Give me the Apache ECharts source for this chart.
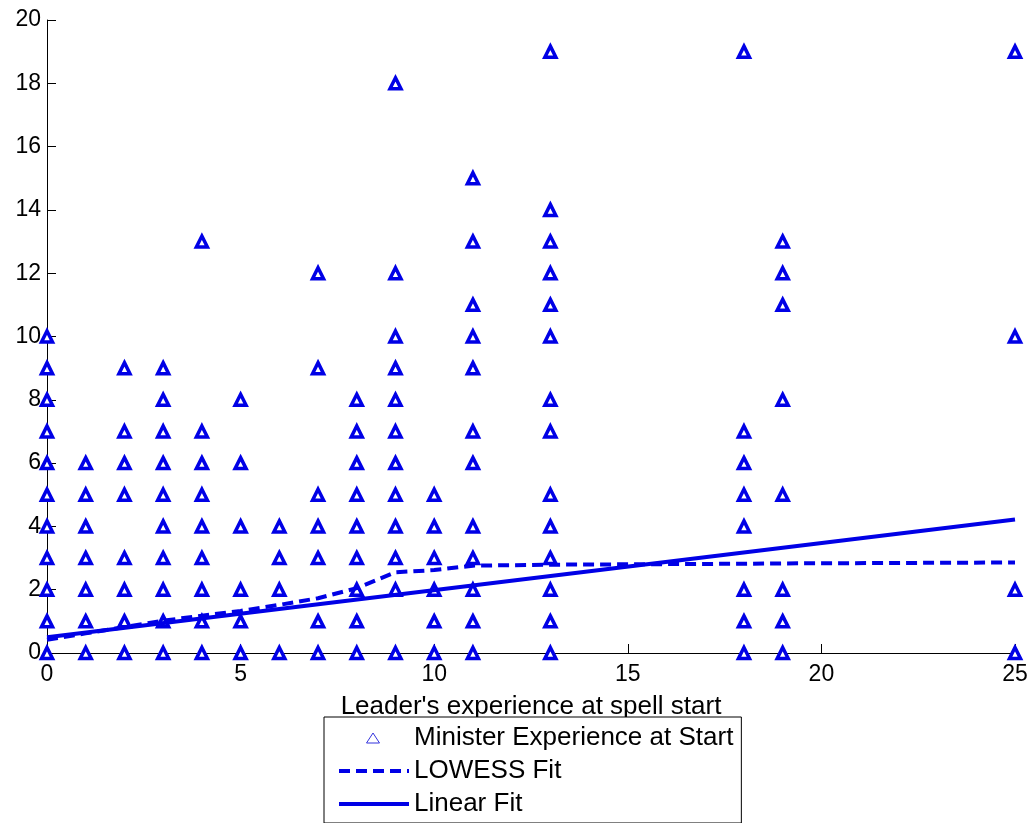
<!DOCTYPE html>
<html>
<head>
<meta charset="utf-8">
<script src="https://cdn.jsdelivr.net/npm/echarts@6/dist/echarts.min.js"></script>
<style>
  html, body { margin: 0; padding: 0; background: #fff; }
  #chart { width: 1035px; height: 823px; }
</style>
</head>
<body>
<div id="chart"></div>
<script>
// leader experience values (x) and minister experience values found at each x
var leaderExp = [0, 1, 2, 3, 4, 5, 6, 7, 8, 9, 10, 11, 13, 18, 19, 25];
var ministerExp = [
	[0, 1, 2, 3, 4, 5, 6, 7, 8, 9, 10],
	[0, 1, 2, 3, 4, 5, 6],
	[0, 1, 2, 3, 5, 6, 7, 9],
	[0, 1, 2, 3, 4, 5, 6, 7, 8, 9],
	[0, 1, 2, 3, 4, 5, 6, 7, 13],
	[0, 1, 2, 4, 6, 8],
	[0, 2, 3, 4],
	[0, 1, 3, 4, 5, 9, 12],
	[0, 1, 2, 3, 4, 5, 6, 7, 8],
	[0, 2, 3, 4, 5, 6, 7, 8, 9, 10, 12, 18],
	[0, 1, 2, 3, 4, 5],
	[0, 1, 2, 3, 4, 6, 7, 9, 10, 11, 13, 15],
	[0, 1, 2, 3, 4, 5, 7, 8, 10, 11, 12, 13, 14, 19],
	[0, 1, 2, 4, 5, 6, 7, 19],
	[0, 1, 2, 5, 8, 11, 12, 13],
	[0, 2, 10, 19]
];

// LOWESS fit, read at each leader experience value
var lowessY = [0.42, 0.62, 0.82, 1.02, 1.18, 1.33, 1.52, 1.73, 2.05, 2.55, 2.62, 2.76, 2.79, 2.82, 2.83, 2.86];

// linear fit end points
var linearX = [0, 25];
var linearY = [0.50, 4.22];

var blue = '#0000e6';
var font = '"Liberation Sans", Arial, sans-serif';
// small open triangle for the legend, padded out to the icon box so it is not stretched
var legendTriangle = 'path://M0,0L0,0M70,14L70,14M34,2L40.5,12L27.5,12Z';

var scatterData = [];
leaderExp.forEach(function (x, i) {
	ministerExp[i].forEach(function (y) {
		scatterData.push([x, y]);
	});
});
var lowessData = leaderExp.map(function (x, i) { return [x, lowessY[i]]; });
var linearData = linearX.map(function (x, i) { return [x, linearY[i]]; });

var chartDom = document.getElementById('chart');
var myChart = echarts.init(chartDom, null, { renderer: 'canvas', devicePixelRatio: 1 });

var option = {
	animation: false,
	backgroundColor: '#fff',
	textStyle: { fontFamily: font },
	grid: { left: 47, right: 20, top: 20, bottom: 170, containLabel: false },
	xAxis: {
		type: 'value',
		min: 0,
		max: 25,
		interval: 5,
		name: "Leader's experience at spell start",
		nameLocation: 'middle',
		nameGap: 41,
		nameTextStyle: { fontSize: 26, color: '#000', fontFamily: font },
		axisLine: { lineStyle: { color: '#000', width: 1 } },
		axisTick: { inside: true, length: 9, lineStyle: { color: '#000' } },
		axisLabel: { fontSize: 23, color: '#000', margin: 10, fontFamily: font },
		splitLine: { show: false }
	},
	yAxis: {
		type: 'value',
		min: 0,
		max: 20,
		interval: 2,
		axisLine: { show: true, lineStyle: { color: '#000', width: 1 } },
		axisTick: { show: true, inside: true, length: 9, lineStyle: { color: '#000' } },
		axisLabel: { fontSize: 23, color: '#000', margin: 6, fontFamily: font },
		splitLine: { show: false }
	},
	legend: {
		orient: 'vertical',
		left: 324,
		top: 717,
		padding: [8, 8, 6, 13],
		itemWidth: 70,
		itemHeight: 14,
		itemGap: 7,
		borderColor: '#000',
		borderWidth: 1,
		backgroundColor: '#fff',
		lineStyle: { width: 4 },
		textStyle: { fontSize: 26, color: '#000', fontFamily: font },
		data: [
			{ name: 'Minister Experience at Start', icon: legendTriangle,
				itemStyle: { color: '#fff', borderColor: '#3333dd', borderWidth: 1 } },
			{ name: 'LOWESS Fit', itemStyle: { opacity: 0 } },
			{ name: 'Linear Fit', itemStyle: { opacity: 0 } }
		]
	},
	series: [
		{
			name: 'Minister Experience at Start',
			type: 'scatter',
			symbol: 'triangle',
			symbolSize: 11,
			data: scatterData,
			itemStyle: { color: '#fff', borderColor: blue, borderWidth: 3.5, opacity: 1 },
			z: 3
		},
		{
			name: 'LOWESS Fit',
			type: 'line',
			data: lowessData,
			symbol: 'none',
			color: blue,
			lineStyle: { color: blue, width: 4, type: [11, 6] },
			z: 4
		},
		{
			name: 'Linear Fit',
			type: 'line',
			data: linearData,
			symbol: 'none',
			color: blue,
			lineStyle: { color: blue, width: 4, type: 'solid' },
			z: 4
		}
	]
};

option && myChart.setOption(option);
</script>
</body>
</html>
